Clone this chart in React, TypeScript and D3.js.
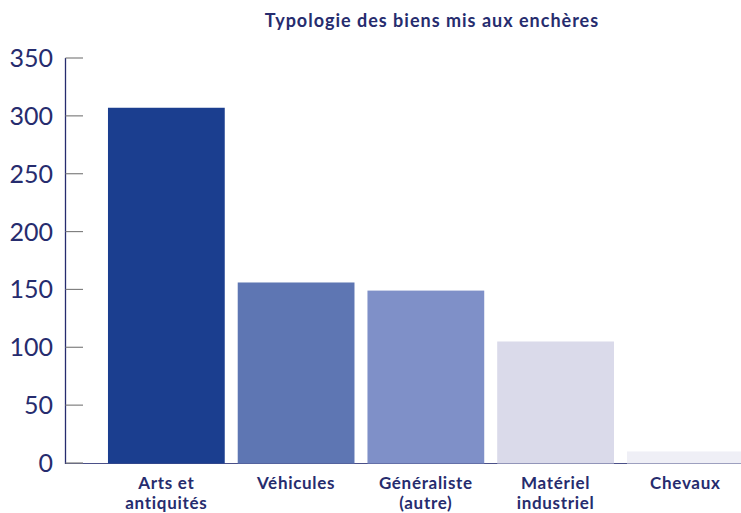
import React from "react";
import * as d3 from "d3";

const categories: string[][] = [
  ["Arts et", "antiquités"],
  ["Véhicules"],
  ["Généraliste", "(autre)"],
  ["Matériel", "industriel"],
  ["Chevaux"],
];
const values = [307, 156, 149, 105, 10];
const colors = ["#1b3e8f", "#5e76b3", "#7f90c8", "#dadaea", "#efeff6"];
const yTicks = [0, 50, 100, 150, 200, 250, 300, 350];
const title = "Typologie des biens mis aux enchères";

export default function App() {
  const W = 741, H = 513;
  const axisX = 65.5;
  const y = d3.scaleLinear().domain([0, 350]).range([463, 58]);
  const x = d3
    .scaleBand<number>()
    .domain(values.map((_, i) => i))
    .range([95, 756.7])
    .paddingInner(0.1)
    .paddingOuter(0.1);
  const navy = "#262c6e";
  const font = "Lato, 'Noto Sans', sans-serif";
  return (
    <svg width={W} height={H} style={{ position: "absolute", left: 0, top: 0 }}>
      <text x={432} y={27} textAnchor="middle" fontFamily={font} fontWeight={700} fontSize={18} letterSpacing={1} fill={navy}>
        {title}
      </text>
      {/* x baseline */}
      <line x1={axisX} x2={W} y1={y(0) + 0.5} y2={y(0) + 0.5} stroke="#4b5088" strokeWidth={1.2} />
      {/* y axis */}
      <line x1={axisX} x2={axisX} y1={y(350)} y2={y(0) + 1} stroke={navy} strokeWidth={1.3} />
      {yTicks.map((t) => (
        <g key={t}>
          <line x1={axisX} x2={83} y1={y(t)} y2={y(t)} stroke="#808080" strokeWidth={1.2} />
          <text x={53} y={y(t) + 9} textAnchor="end" fontFamily={font} fontSize={25} fill={navy}>
            {t}
          </text>
        </g>
      ))}
      {values.map((v, i) => (
        <rect
          key={i}
          x={x(i)}
          y={y(v)}
          width={x.bandwidth()}
          height={y(0) - y(v) + 0.5}
          fill={colors[i]}
        />
      ))}
      {categories.map((lines, i) => (
        <text
          key={i}
          textAnchor="middle"
          fontFamily={font}
          fontWeight={700}
          fontSize={17}
          letterSpacing={0.7}
          fill={navy}
        >
          {lines.map((l, j) => (
            <tspan key={j} x={(x(i) as number) + x.bandwidth() / 2} y={489 + j * 20}>
              {l}
            </tspan>
          ))}
        </text>
      ))}
    </svg>
  );
}
